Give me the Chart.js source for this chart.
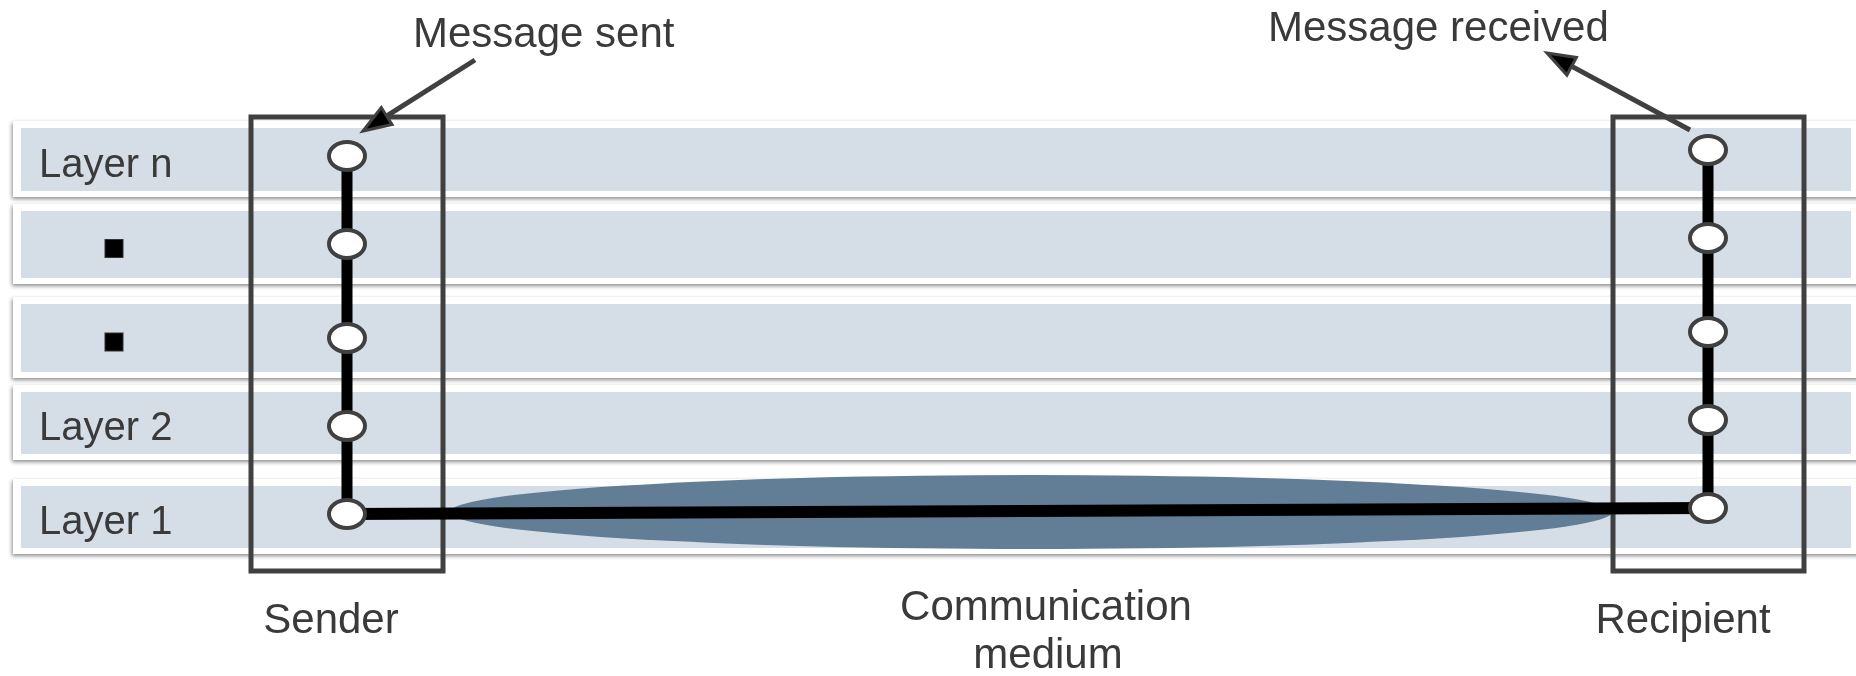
<!DOCTYPE html>
<html>
<head>
<meta charset="utf-8">
<script src="https://cdn.jsdelivr.net/npm/chart.js@4.4.1/dist/chart.umd.min.js"></script>
<style>
  html, body { margin: 0; padding: 0; background: #fff; }
  #wrap { width: 1856px; height: 676px; }
</style>
</head>
<body>
<div id="wrap"><canvas id="stack"></canvas></div>
<script>
// layer rows, top to bottom (units of the diagram = px of the 1856x676 frame)
var layerLabels = ['Layer n', '', '', 'Layer 2', 'Layer 1']
var dotRows = [false, true, true, false, false]
var rowTop = [128, 211, 304, 392, 486]
var rowBottom = [191, 278, 372, 454, 548]

// the two protocol stacks
var senderX = 347
var recipientX = 1708
var senderY = [156, 244, 338, 426, 514]
var recipientY = [150, 238, 332, 420, 508]

// boxes round the stacks
var senderBox = [251, 117, 443, 571]
var recipientBox = [1613, 117, 1804, 571]

// communication medium (centre x, centre y, half width, half height)
var medium = [1031, 512, 581, 37]

var FONT = '42px "Liberation Sans", Arial, sans-serif'
var LAYER_FONT = '40px "Liberation Sans", Arial, sans-serif'
var TEXT = '#3a3a3a'

// open ring used as the point style
function ring() {
    var c = document.createElement('canvas')
    c.width = 44
    c.height = 36
    var g = c.getContext('2d')
    g.beginPath()
    g.ellipse(22, 18, 18, 14, 0, 0, Math.PI * 2)
    g.fillStyle = '#fff'
    g.fill()
    g.lineWidth = 4
    g.strokeStyle = '#404040'
    g.stroke()
    return c
}
var RING = ring()

function arrow(ctx, x0, y0, x1, y1) {
    var dx = x1 - x0, dy = y1 - y0
    var len = Math.sqrt(dx * dx + dy * dy)
    var ux = dx / len, uy = dy / len
    var hl = 28, hw = 10
    var bx = x1 - ux * hl, by = y1 - uy * hl
    ctx.strokeStyle = '#404040'
    ctx.lineWidth = 5
    ctx.beginPath()
    ctx.moveTo(x0, y0)
    ctx.lineTo(bx + ux * 4, by + uy * 4)
    ctx.stroke()
    ctx.beginPath()
    ctx.moveTo(x1, y1)
    ctx.lineTo(bx - uy * hw, by + ux * hw)
    ctx.lineTo(bx + uy * hw, by - ux * hw)
    ctx.closePath()
    ctx.fillStyle = '#000'
    ctx.fill()
    ctx.lineWidth = 3
    ctx.lineJoin = 'miter'
    ctx.stroke()
}

var backdrop = {
    id: 'backdrop',
    beforeDatasetsDraw: function (chart) {
        var ctx = chart.ctx, X = chart.scales.x, Y = chart.scales.y
        ctx.save()
        // cards with shadow, then the blue-grey bands
        rowTop.forEach(function (t, i) {
            var top = Y.getPixelForValue(t), bot = Y.getPixelForValue(rowBottom[i])
            ctx.save()
            ctx.shadowColor = 'rgba(0,0,0,0.45)'
            ctx.shadowBlur = 4
            ctx.shadowOffsetY = 2
            ctx.shadowOffsetX = -1
            ctx.fillStyle = '#fff'
            ctx.fillRect(X.getPixelForValue(13), top - 7, X.getPixelForValue(1870) - X.getPixelForValue(13), bot - top + 13)
            ctx.restore()
            ctx.fillStyle = '#d5dde6'
            ctx.fillRect(X.getPixelForValue(21), top, X.getPixelForValue(1851) - X.getPixelForValue(21), bot - top)
        })
        // medium
        ctx.fillStyle = '#627e97'
        ctx.beginPath()
        ctx.ellipse(X.getPixelForValue(medium[0]), Y.getPixelForValue(medium[1]),
            X.getPixelForValue(medium[0] + medium[2]) - X.getPixelForValue(medium[0]),
            Y.getPixelForValue(medium[1] + medium[3]) - Y.getPixelForValue(medium[1]), 0, 0, Math.PI * 2)
        ctx.fill()
        // boxes
        ctx.strokeStyle = '#404040'
        ctx.lineWidth = 5
        ;[senderBox, recipientBox].forEach(function (b) {
            var x0 = X.getPixelForValue(b[0]), y0 = Y.getPixelForValue(b[1])
            ctx.strokeRect(x0, y0, X.getPixelForValue(b[2]) - x0, Y.getPixelForValue(b[3]) - y0)
        })
        // layer names
        ctx.font = LAYER_FONT
        ctx.fillStyle = TEXT
        ctx.textBaseline = 'alphabetic'
        ctx.textAlign = 'left'
        layerLabels.forEach(function (l, i) {
            var mid = (rowTop[i] + rowBottom[i]) / 2
            if (l) ctx.fillText(l, X.getPixelForValue(39), Y.getPixelForValue(mid + 17))
            if (dotRows[i]) {
                ctx.fillStyle = '#000'
                ctx.fillRect(X.getPixelForValue(105), Y.getPixelForValue(mid - 5), 18, 18)
                ctx.strokeStyle = '#333'
                ctx.lineWidth = 1
                ctx.strokeRect(X.getPixelForValue(105), Y.getPixelForValue(mid - 5), 18, 18)
                ctx.fillStyle = TEXT
            }
        })
        ctx.restore()
    },
    afterDatasetsDraw: function (chart) {
        var ctx = chart.ctx, X = chart.scales.x, Y = chart.scales.y
        ctx.save()
        ctx.font = FONT
        ctx.fillStyle = TEXT
        ctx.textBaseline = 'alphabetic'
        ctx.textAlign = 'left'
        ctx.fillText('Message sent', X.getPixelForValue(413), Y.getPixelForValue(47))
        ctx.fillText('Message received', X.getPixelForValue(1268), Y.getPixelForValue(41))
        ctx.textAlign = 'center'
        ctx.fillText('Sender', X.getPixelForValue(331), Y.getPixelForValue(633))
        ctx.fillText('Recipient', X.getPixelForValue(1683), Y.getPixelForValue(633))
        ctx.fillText('Communication', X.getPixelForValue(1046), Y.getPixelForValue(620))
        ctx.fillText('medium', X.getPixelForValue(1048), Y.getPixelForValue(668))
        arrow(ctx, X.getPixelForValue(475), Y.getPixelForValue(60), X.getPixelForValue(363), Y.getPixelForValue(131))
        arrow(ctx, X.getPixelForValue(1690), Y.getPixelForValue(130), X.getPixelForValue(1547), Y.getPixelForValue(53))
        ctx.restore()
    }
}

function stack(x, ys) {
    return ys.map(function (y) { return { x: x, y: y } })
}

new Chart(document.getElementById('stack'), {
    type: 'line',
    data: {
        datasets: [{
            label: 'Sender',
            data: stack(senderX, senderY),
            borderColor: '#000',
            borderWidth: 11,
            pointStyle: RING,
            order: 1
        }, {
            label: 'Recipient',
            data: stack(recipientX, recipientY),
            borderColor: '#000',
            borderWidth: 11,
            pointStyle: RING,
            order: 1
        }, {
            label: 'Medium',
            data: [{ x: senderX, y: senderY[4] }, { x: recipientX, y: recipientY[4] }],
            borderColor: '#000',
            borderWidth: 12,
            pointRadius: 0,
            order: 2
        }]
    },
    options: {
        responsive: true,
        maintainAspectRatio: false,
        animation: false,
        events: [],
        layout: { padding: 0, autoPadding: false },
        scales: {
            x: { type: 'linear', min: 0, max: 1856, display: false },
            y: { type: 'linear', min: 0, max: 676, reverse: true, display: false }
        },
        plugins: {
            legend: { display: false },
            tooltip: { enabled: false }
        }
    },
    plugins: [backdrop]
})
</script>
</body>
</html>
